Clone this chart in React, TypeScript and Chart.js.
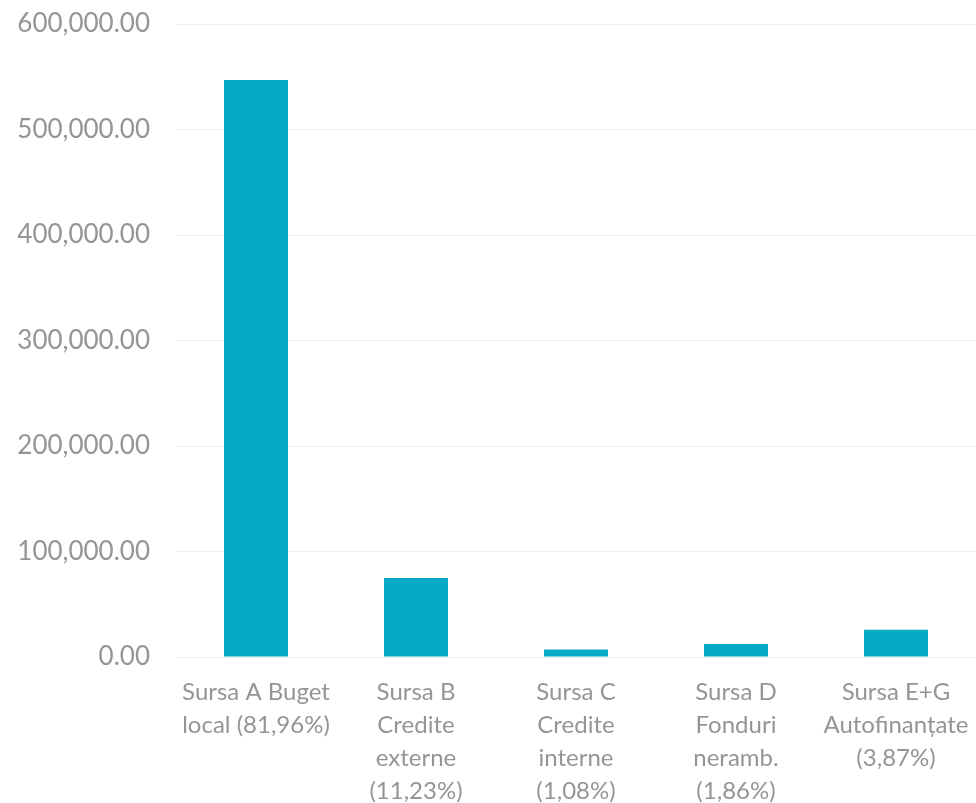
import React, { useEffect, useRef } from "react";
import { Chart, registerables } from "chart.js";

Chart.register(...registerables);

const categories: string[][] = [
  ["Sursa A Buget", "local (81,96%)"],
  ["Sursa B", "Credite", "externe", "(11,23%)"],
  ["Sursa C", "Credite", "interne", "(1,08%)"],
  ["Sursa D", "Fonduri", "neramb.", "(1,86%)"],
  ["Sursa E+G", "Autofinanțate", "(3,87%)"],
];
const values: number[] = [547000, 74950, 7200, 12400, 25800];
const yMin = 0;
const yMax = 600000;
const yStep = 100000;

export default function App() {
  const ref = useRef<HTMLCanvasElement | null>(null);
  useEffect(() => {
    document.body.style.margin = "0";
    const ctx = ref.current!.getContext("2d")!;
    const chart = new Chart(ctx, {
      type: "bar",
      data: {
        labels: categories,
        datasets: [
          {
            data: values,
            backgroundColor: "#05aac4",
            borderWidth: 0,
            barPercentage: 0.4,
            categoryPercentage: 1,
          },
        ],
      },
      options: {
        animation: false,
        responsive: false,
        maintainAspectRatio: false,
        layout: { padding: { top: 24, left: 18, right: 0, bottom: 0 } },
        plugins: { legend: { display: false }, tooltip: { enabled: false } },
        scales: {
          x: {
            afterFit: (axis: any) => {
              axis.height = 146;
              axis.paddingLeft = 0;
              axis.paddingRight = 0;
            },
            grid: { display: false, drawTicks: false },
            border: { display: false },
            ticks: {
              color: "#959595",
              font: { family: "Lato", size: 24, lineHeight: 1.375 },
              padding: 19,
              maxRotation: 0,
              autoSkip: false,
            },
          },
          y: {
            min: yMin,
            max: yMax,
            afterFit: (axis: any) => {
              axis.width = 158;
              axis.paddingTop = 0;
              axis.paddingBottom = 0;
            },
            grid: { color: "#eeeeee", drawTicks: false, lineWidth: 1 },
            border: { display: false },
            ticks: {
              stepSize: yStep,
              color: "#959595",
              font: { family: "Lato", size: 26 },
              padding: 26,
              callback: (v: any) =>
                Number(v).toLocaleString("en-US", {
                  minimumFractionDigits: 2,
                  maximumFractionDigits: 2,
                }),
            },
          },
        },
      },
    });
    return () => chart.destroy();
  }, []);
  return (
    <div style={{ width: 976, height: 803 }}>
      <canvas ref={ref} width={976} height={803} style={{ display: "block" }} />
    </div>
  );
}
